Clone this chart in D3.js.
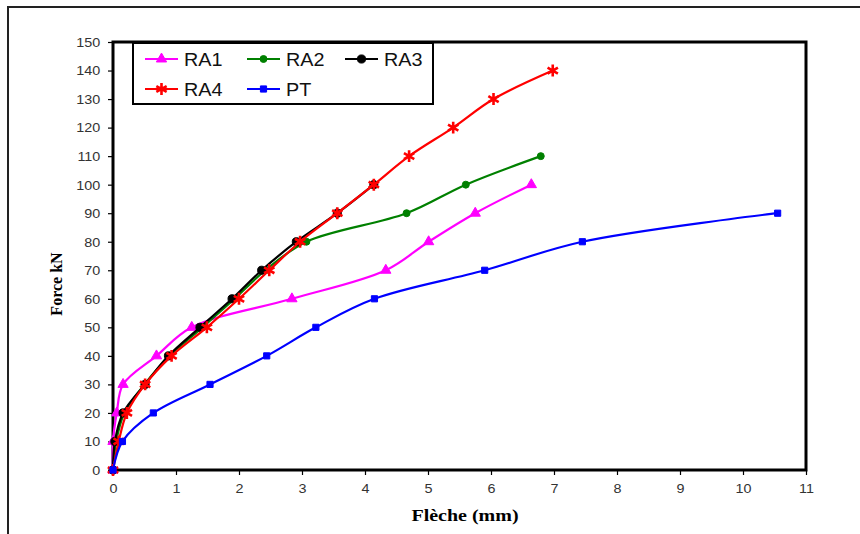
<!DOCTYPE html>
<html>
<head>
<meta charset="utf-8">
<script src="https://cdn.jsdelivr.net/npm/d3@7"></script>
<style>
  html, body { margin: 0; padding: 0; background: #fff; }
  svg { display: block; }
</style>
</head>
<body>
<svg id="chart" width="860" height="534"></svg>
<script>
// Load–deflection data (Force kN vs Flèche mm)
const seriesNames = ["RA1", "RA2", "RA3", "RA4", "PT"];

const forceRA1 = [0, 10, 20, 30, 40, 50, 60, 70, 80, 90, 100];
const flecheRA1 = [0, 0.0, 0.06, 0.16, 0.69, 1.25, 2.84, 4.33, 5.01, 5.75, 6.64];

const forceRA2 = [0, 10, 20, 30, 40, 50, 60, 70, 80, 90, 100, 110];
const flecheRA2 = [0, 0.05, 0.18, 0.5, 0.9, 1.42, 1.93, 2.42, 3.07, 4.66, 5.6, 6.79];

const forceRA3 = [0, 10, 20, 30, 40, 50, 60, 70, 80, 90, 100];
const flecheRA3 = [0, 0.03, 0.16, 0.51, 0.88, 1.38, 1.89, 2.36, 2.91, 3.56, 4.14];

const forceRA4 = [0, 10, 20, 30, 40, 50, 60, 70, 80, 90, 100, 110, 120, 130, 140];
const flecheRA4 = [0, 0.09, 0.22, 0.51, 0.93, 1.49, 2.0, 2.48, 2.97, 3.56, 4.14, 4.7, 5.4, 6.04, 6.98];

const forcePT = [0, 10, 20, 30, 40, 50, 60, 70, 80, 90];
const flechePT = [0, 0.15, 0.64, 1.54, 2.44, 3.22, 4.15, 5.9, 7.45, 10.55];

const xTicks = [0, 1, 2, 3, 4, 5, 6, 7, 8, 9, 10, 11];
const yTicks = [0, 10, 20, 30, 40, 50, 60, 70, 80, 90, 100, 110, 120, 130, 140, 150];

const series = [
  { name: "RA1", x: flecheRA1, y: forceRA1, color: "#ff00ff", symbol: d3.symbolTriangle, size: 46, fill: true },
  { name: "RA2", x: flecheRA2, y: forceRA2, color: "#008000", symbol: d3.symbolCircle, size: 38, fill: true },
  { name: "RA3", x: flecheRA3, y: forceRA3, color: "#000000", symbol: d3.symbolCircle, size: 52, fill: true },
  { name: "RA4", x: flecheRA4, y: forceRA4, color: "#ff0000", symbol: d3.symbolAsterisk, size: 100, fill: false },
  { name: "PT",  x: flechePT,  y: forcePT,  color: "#0000ff", symbol: d3.symbolSquare, size: 38, fill: true }
];

const svg = d3.select("#chart");

const x = d3.scaleLinear().domain([0, 11]).range([113, 806]);
const y = d3.scaleLinear().domain([0, 150]).range([470, 42]);

// outer frame
svg.append("path")
  .attr("d", "M8,540 L8,7 L870,7")
  .attr("fill", "none")
  .attr("stroke", "#222")
  .attr("stroke-width", 2);

// axes (ticks + labels)
const yAxis = svg.append("g")
  .attr("transform", `translate(${x(0)},0)`)
  .call(d3.axisLeft(y).tickValues(yTicks).tickSize(5).tickPadding(6));
const xAxis = svg.append("g")
  .attr("transform", `translate(0,${y(0)})`)
  .call(d3.axisBottom(x).tickValues(xTicks).tickSize(5).tickPadding(9));

[yAxis, xAxis].forEach(g => {
  g.select(".domain").remove();
  g.selectAll(".tick line").attr("stroke", "#000").attr("stroke-width", 1.2);
  g.selectAll(".tick text")
    .attr("fill", "#333")
    .attr("transform", "scale(1.15,1)")
    .style("font-family", "'Liberation Sans', Arial, sans-serif")
    .style("font-size", "12.5px");
});
yAxis.selectAll(".tick text").attr("dy", "0.35em");

// plot area border
svg.append("rect")
  .attr("x", x(0)).attr("y", y(150))
  .attr("width", x(11) - x(0)).attr("height", y(0) - y(150))
  .attr("fill", "none")
  .attr("stroke", "#000")
  .attr("stroke-width", 3);

// curves
const line = d3.line()
  .x(d => x(d[0]))
  .y(d => y(d[1]))
  .curve(d3.curveCatmullRom.alpha(0.5));

const plot = svg.append("g");
series.forEach(s => {
  const pts = s.x.map((v, i) => [v, s.y[i]]);
  const g = plot.append("g");
  g.append("path")
    .attr("d", line(pts))
    .attr("fill", "none")
    .attr("stroke", s.color)
    .attr("stroke-width", 2.2);
  g.selectAll("path.mk")
    .data(pts)
    .join("path")
    .attr("class", "mk")
    .attr("transform", d => `translate(${x(d[0])},${y(d[1])})`)
    .attr("d", d3.symbol().type(s.symbol).size(s.size))
    .attr("fill", s.fill ? s.color : "none")
    .attr("stroke", s.color)
    .attr("stroke-width", s.fill ? 1 : 2.6);
});

// legend
const legend = svg.append("g");
legend.append("rect")
  .attr("x", 133).attr("y", 43)
  .attr("width", 300).attr("height", 61)
  .attr("fill", "#fff")
  .attr("stroke", "#000")
  .attr("stroke-width", 2);

const legendPos = [
  [145, 59], [247, 59], [345, 59],
  [145, 89], [247, 89]
];
series.forEach((s, i) => {
  const [lx, ly] = legendPos[i];
  const item = legend.append("g");
  item.append("line")
    .attr("x1", lx).attr("x2", lx + 33)
    .attr("y1", ly).attr("y2", ly)
    .attr("stroke", s.color).attr("stroke-width", 2.2);
  item.append("path")
    .attr("transform", `translate(${lx + 16.5},${ly})`)
    .attr("d", d3.symbol().type(s.symbol).size(s.size))
    .attr("fill", s.fill ? s.color : "none")
    .attr("stroke", s.color)
    .attr("stroke-width", s.fill ? 1 : 2.6);
  item.append("text")
    .attr("transform", `translate(${lx + 39},${ly + 6.5}) scale(1.1,1)`)
    .attr("fill", "#111")
    .style("font-family", "'Liberation Sans', Arial, sans-serif")
    .style("font-size", "18px")
    .text(s.name);
});

// axis titles
svg.append("text")
  .attr("transform", "translate(62,284) rotate(-90)")
  .attr("text-anchor", "middle")
  .style("font-family", "'Liberation Serif', 'Times New Roman', serif")
  .style("font-weight", "bold")
  .style("font-size", "16px")
  .text("Force kN");

svg.append("text")
  .attr("transform", "translate(465,521) scale(1.25,1)")
  .attr("text-anchor", "middle")
  .style("font-family", "'Liberation Serif', 'Times New Roman', serif")
  .style("font-weight", "bold")
  .style("font-size", "16px")
  .text("Flèche (mm)");
</script>
</body>
</html>
